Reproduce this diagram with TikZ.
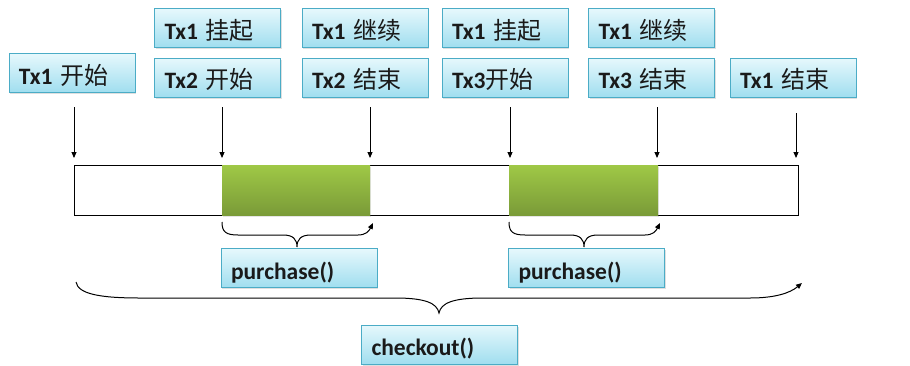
\documentclass[tikz,border=0pt]{standalone}
\usepackage{fontspec}
\setmainfont{Carlito}
\newfontfamily\cjk{Noto Sans CJK SC}
\usetikzlibrary{arrows.meta,shadows}
\definecolor{bxb}{HTML}{4BACC6}
\definecolor{bxt}{HTML}{E6F8FC}
\definecolor{bxbot}{HTML}{A0DEEF}
\definecolor{grt}{HTML}{9FC846}
\definecolor{grb}{HTML}{7A9B38}
\definecolor{txt}{HTML}{1A1A1A}
\tikzset{
  tbox/.style={draw=bxb, line width=0.8pt, top color=bxt, bottom color=bxbot,
    minimum height=39pt, inner xsep=10pt, inner ysep=0pt, align=left,
    text width=106pt, text=txt, font=\fontsize{23.5}{25}\selectfont,
    text height=24pt, text depth=2pt,
    drop shadow={shadow xshift=1.2pt, shadow yshift=-1.8pt, opacity=0.25}},
  wbox/.style={tbox, text width=136pt},
  arr/.style={line width=0.9pt, -{Triangle[length=6pt,width=5pt]}},
  brace/.style={line width=1pt},
  greenbar/.style={top color=grt, bottom color=grb,
    drop shadow={shadow xshift=1pt, shadow yshift=-1.5pt, opacity=0.2}}
}
\newcommand{\cj}[1]{{\cjk\fontsize{24}{26}\selectfont #1}}
\begin{document}
\begin{tikzpicture}[x=1pt,y=-1pt]
\useasboundingbox[fill=white] (0,0) rectangle (910,365);

% main bar
\draw[line width=1pt] (74,165) rectangle (798,215);
\node[greenbar, minimum width=148pt, minimum height=50pt, inner sep=0pt] (g1) at (296,190) {};
\node[greenbar, minimum width=149pt, minimum height=50pt, inner sep=0pt] (g2) at (583.5,190) {};

% label boxes
\node[tbox] (b1) at (72,73) {\textbf{Tx1} \cj{开始}};
\node[tbox] (b2a) at (217.5,28) {\textbf{Tx1} \cj{挂起}};
\node[tbox] (b2b) at (217.5,77.5) {\textbf{Tx2} \cj{开始}};
\node[tbox] (b3a) at (365,28) {\textbf{Tx1} \cj{继续}};
\node[tbox] (b3b) at (365,77.5) {\textbf{Tx2} \cj{结束}};
\node[tbox] (b4a) at (505,28) {\textbf{Tx1} \cj{挂起}};
\node[tbox] (b4b) at (505,77.5) {\textbf{Tx3}\cj{开始}};
\node[tbox] (b5a) at (651.5,28) {\textbf{Tx1} \cj{继续}};
\node[tbox] (b5b) at (651.5,77.5) {\textbf{Tx3} \cj{结束}};
\node[tbox] (b6) at (793,77.5) {\textbf{Tx1} \cj{结束}};

% arrows
\coordinate (a1s) at (74,107);  \coordinate (a1e) at (74,158);
\coordinate (a2s) at (222,107); \coordinate (a2e) at (222,158);
\coordinate (a3s) at (370,107); \coordinate (a3e) at (370,158);
\coordinate (a4s) at (510,107); \coordinate (a4e) at (510,158);
\coordinate (a5s) at (657,107); \coordinate (a5e) at (657,158);
\coordinate (a6s) at (796,113); \coordinate (a6e) at (796,158);
\foreach \i in {1,...,6} \draw[arr] (a\i s) -- (a\i e);

% purchase braces
\coordinate (p1s) at (222,222); \coordinate (p1e) at (373,223);
\draw[brace, -{Triangle[length=6pt,width=5pt]}] (p1s) .. controls (222,232) and (226,235) .. (238,235)
  -- (283,235) .. controls (293,235) and (297,239) .. (297,247)
  .. controls (297,239) and (301,235) .. (311,235) -- (358,235)
  .. controls (366,235) and (369,231) .. (p1e);
\coordinate (p2s) at (509,222); \coordinate (p2e) at (660,223);
\draw[brace, -{Triangle[length=6pt,width=5pt]}] (p2s) .. controls (509,232) and (513,235) .. (525,235)
  -- (570,235) .. controls (580,235) and (584,239) .. (584,247)
  .. controls (584,239) and (588,235) .. (598,235) -- (645,235)
  .. controls (653,235) and (656,231) .. (p2e);

\node[wbox] (pu1) at (299,268) {\textbf{purchase()}};
\node[wbox] (pu2) at (586.5,268) {\textbf{purchase()}};

% checkout brace
\coordinate (cs) at (76,282); \coordinate (ce) at (802,283);
\draw[brace, -{Triangle[length=6pt,width=5pt]}] (cs) .. controls (78,294) and (100,298) .. (140,298)
  -- (395,298) .. controls (425,298) and (437,303) .. (439,313)
  .. controls (441,303) and (453,298) .. (483,298) -- (750,298)
  .. controls (775,298) and (790,293) .. (ce);

\node[wbox] (co) at (439.5,344.5) {\textbf{checkout()}};
\end{tikzpicture}
\end{document}
